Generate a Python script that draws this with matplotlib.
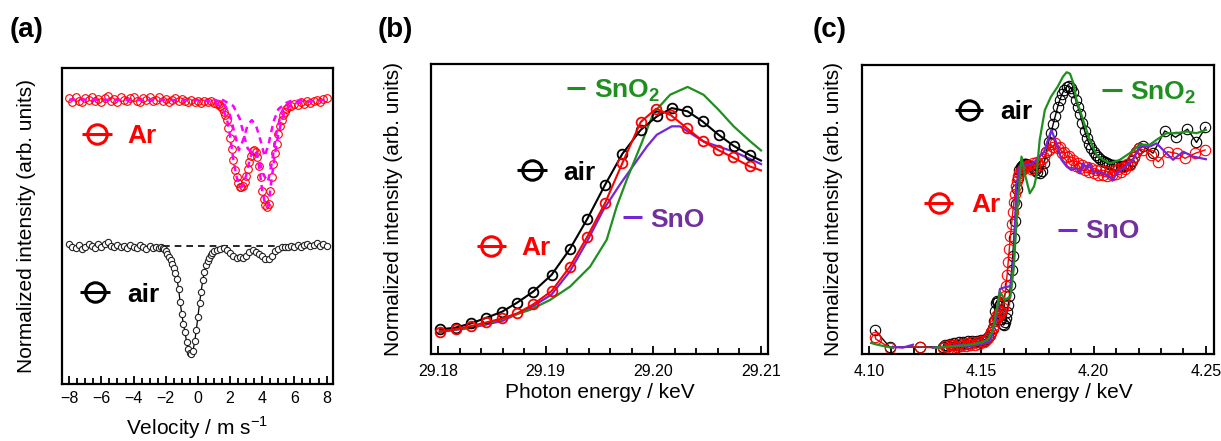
import matplotlib
matplotlib.use("Agg")
import matplotlib.pyplot as plt
from matplotlib.ticker import MultipleLocator, FormatStrFormatter

plt.rcParams['font.family'] = ['Liberation Sans', 'DejaVu Sans']
plt.rcParams['mathtext.fontset'] = 'custom'
plt.rcParams['mathtext.rm'] = 'Liberation Sans'
plt.rcParams['mathtext.bf'] = 'Liberation Sans:bold'

# ---------------- (a) Mossbauer: velocity (mm/s) vs normalized intensity ----------------
ar_v = [-8.0, -7.8, -7.6, -7.4, -7.2, -7.0, -6.8, -6.6, -6.4, -6.2, -6.0, -5.8, -5.6, -5.4,
        -5.2, -5.0, -4.8, -4.6, -4.4, -4.2, -4.0, -3.8, -3.6, -3.4, -3.2, -3.0, -2.8, -2.6,
        -2.4, -2.2, -2.0, -1.8, -1.6, -1.4, -1.2, -1.0, -0.8, -0.6, -0.4, -0.2, 0.0, 0.2,
        0.4, 0.6, 0.8, 1.0, 1.2,
        1.3, 1.4, 1.5, 1.6, 1.7, 1.8, 1.9, 2.0, 2.1, 2.2, 2.3, 2.4, 2.5, 2.6, 2.7, 2.8, 2.9,
        3.0, 3.1, 3.2, 3.3, 3.4, 3.5, 3.6, 3.7, 3.8, 3.9, 4.0, 4.1, 4.2, 4.3, 4.4, 4.5, 4.6,
        4.7, 4.8, 4.9, 5.0, 5.1, 5.2, 5.3, 5.4, 5.5, 5.6,
        5.8, 6.0, 6.2, 6.4, 6.6, 6.8, 7.0, 7.2, 7.4, 7.6, 7.8, 8.0]
ar_y = [0.904, 0.893, 0.907, 0.897, 0.891, 0.905, 0.899, 0.909, 0.894, 0.902, 0.892, 0.906,
        0.910, 0.896, 0.901, 0.891, 0.907, 0.898, 0.894, 0.905, 0.909, 0.897, 0.892, 0.904,
        0.899, 0.907, 0.894, 0.900, 0.908, 0.896, 0.902, 0.893, 0.899, 0.905, 0.895, 0.901,
        0.896, 0.891, 0.900, 0.893, 0.897, 0.890, 0.896, 0.891, 0.895, 0.889, 0.887,
        0.885, 0.880, 0.872, 0.862, 0.850, 0.835, 0.810, 0.780, 0.745, 0.708, 0.678, 0.655,
        0.635, 0.624, 0.622, 0.627, 0.640, 0.658, 0.680, 0.702, 0.722, 0.737, 0.742, 0.735,
        0.718, 0.690, 0.655, 0.612, 0.585, 0.566, 0.560, 0.570, 0.610, 0.655, 0.695, 0.730,
        0.760, 0.790, 0.815, 0.835, 0.850, 0.862, 0.870, 0.876,
        0.880, 0.886, 0.883, 0.891, 0.887, 0.895, 0.890, 0.897, 0.899, 0.893, 0.901, 0.904]

ar_fit_v = [-8.0, 0.0, 1.0, 1.5, 1.8, 2.0, 2.2, 2.4, 2.6, 2.7, 2.8, 3.0, 3.2, 3.4, 3.5, 3.6,
            3.8, 4.0, 4.2, 4.3, 4.4, 4.6, 4.8, 5.0, 5.3, 5.6, 6.0, 8.0]
ar_fit_y = [0.900, 0.898, 0.893, 0.875, 0.840, 0.785, 0.712, 0.657, 0.625, 0.622, 0.628,
            0.660, 0.705, 0.738, 0.742, 0.735, 0.690, 0.612, 0.566, 0.560, 0.572, 0.655,
            0.730, 0.790, 0.850, 0.876, 0.888, 0.900]
ar_comp1_v = [1.0, 1.6, 2.0, 2.3, 2.55, 2.8, 3.1, 3.35, 3.6, 3.9, 4.15, 4.4, 4.7, 5.0, 5.5, 6.0]
ar_comp1_y = [0.900, 0.890, 0.850, 0.790, 0.740, 0.770, 0.820, 0.835, 0.820, 0.770, 0.720,
              0.760, 0.830, 0.870, 0.890, 0.900]
ar_comp2_v = [1.5, 2.2, 2.6, 2.9, 3.1, 3.3, 3.6, 3.85, 4.1, 4.35, 4.6, 4.9, 5.2, 5.6, 6.5]
ar_comp2_y = [0.900, 0.880, 0.840, 0.780, 0.745, 0.735, 0.735, 0.700, 0.660, 0.640, 0.700,
              0.800, 0.860, 0.890, 0.900]

air_v = [-8.0, -7.8, -7.6, -7.4, -7.2, -7.0, -6.8, -6.6, -6.4, -6.2, -6.0, -5.8, -5.6, -5.4,
         -5.2, -5.0, -4.8, -4.6, -4.4, -4.2, -4.0, -3.8, -3.6, -3.4, -3.2, -3.0, -2.8, -2.6,
         -2.4,
         -2.3, -2.2, -2.1, -2.0, -1.9, -1.8, -1.7, -1.6, -1.5, -1.4, -1.3, -1.2, -1.1, -1.0,
         -0.9, -0.8, -0.7, -0.6, -0.5, -0.4, -0.3, -0.2, -0.1, 0.0, 0.1, 0.2, 0.3, 0.4, 0.5,
         0.6, 0.7, 0.8, 0.9, 1.0,
         1.2, 1.4, 1.6, 1.8, 2.0, 2.2, 2.4, 2.6, 2.8, 3.0, 3.2, 3.4, 3.6, 3.8, 4.0, 4.2, 4.4,
         4.6, 4.8, 5.0, 5.2, 5.4, 5.6, 5.8, 6.0, 6.2, 6.4, 6.6, 6.8, 7.0, 7.2, 7.4, 7.6, 7.8,
         8.0]
air_y = [0.442, 0.434, 0.430, 0.440, 0.428, 0.435, 0.443, 0.436, 0.431, 0.442, 0.435, 0.444,
         0.448, 0.437, 0.433, 0.441, 0.432, 0.438, 0.430, 0.439, 0.435, 0.431, 0.439, 0.433,
         0.428, 0.437, 0.431, 0.434, 0.430,
         0.432, 0.430, 0.426, 0.420, 0.412, 0.402, 0.392, 0.380, 0.368, 0.352, 0.333, 0.300,
         0.258, 0.220, 0.190, 0.163, 0.132, 0.110, 0.097, 0.094, 0.106, 0.135, 0.170, 0.213,
         0.255, 0.292, 0.328, 0.355, 0.376, 0.390, 0.400, 0.408, 0.414, 0.420,
         0.424, 0.428, 0.430, 0.425, 0.415, 0.405, 0.400, 0.402, 0.398, 0.405, 0.418, 0.424,
         0.418, 0.410, 0.404, 0.396, 0.394, 0.405, 0.420, 0.428, 0.432, 0.434, 0.433, 0.437,
         0.435, 0.441, 0.435, 0.439, 0.443, 0.436, 0.441, 0.445, 0.438, 0.442, 0.438]
air_base_v = [-2.2, 5.0]
air_base_y = [0.437, 0.437]

# ---------------- (b) Sn K-edge XANES ----------------
air_b_E = [29.18016, 29.18164, 29.18310, 29.18450, 29.18596, 29.18735, 29.18884, 29.19055,
           29.19225, 29.19387, 29.19551, 29.19712, 29.19883, 29.20032, 29.20171, 29.20317,
           29.20457, 29.20606, 29.20745, 29.20900, 29.21000]
air_b_y = [0.085, 0.091, 0.106, 0.125, 0.146, 0.177, 0.215, 0.273, 0.362, 0.466, 0.583,
           0.690, 0.773, 0.819, 0.848, 0.837, 0.802, 0.756, 0.718, 0.685, 0.667]
ar_b_E = [29.18016, 29.18164, 29.18310, 29.18450, 29.18599, 29.18735, 29.18884, 29.19055,
          29.19225, 29.19387, 29.19551, 29.19712, 29.19883, 29.20026, 29.20165, 29.20311,
          29.20457, 29.20599, 29.20739, 29.20894, 29.21000]
ar_b_y = [0.077, 0.085, 0.097, 0.109, 0.123, 0.140, 0.171, 0.217, 0.301, 0.405, 0.520,
          0.658, 0.800, 0.846, 0.823, 0.779, 0.735, 0.704, 0.678, 0.647, 0.633]
sno2_b_E = [29.18016, 29.18310, 29.18574, 29.18853, 29.19039, 29.19225, 29.19412, 29.19567,
            29.19660, 29.19753, 29.19883, 29.20001, 29.20156, 29.20318, 29.20466, 29.20606,
            29.20746, 29.20901, 29.21000]
sno2_b_y = [0.077, 0.092, 0.118, 0.152, 0.186, 0.232, 0.301, 0.394, 0.509, 0.601, 0.720,
            0.831, 0.894, 0.921, 0.894, 0.842, 0.785, 0.733, 0.702]
sno_b_E = [29.18016, 29.18310, 29.18605, 29.18884, 29.19055, 29.19225, 29.19387, 29.19536,
           29.19691, 29.19815, 29.19939, 29.20032, 29.20171, 29.20249, 29.20342, 29.20466,
           29.20606, 29.20746, 29.20901, 29.21000]
sno_b_y = [0.077, 0.090, 0.115, 0.165, 0.205, 0.285, 0.390, 0.497, 0.585, 0.650, 0.715,
           0.756, 0.785, 0.785, 0.762, 0.733, 0.715, 0.698, 0.672, 0.655]

# ---------------- (c) Sn L3-edge XANES ----------------
air_c_E = [4.1028, 4.1092, 4.1225,
           4.133, 4.134, 4.135, 4.136, 4.137, 4.138, 4.139, 4.140, 4.141, 4.142, 4.143, 4.144,
           4.145, 4.146, 4.147, 4.148, 4.149, 4.150, 4.151, 4.152, 4.153, 4.154,
           4.1545, 4.155, 4.1555, 4.156, 4.1565, 4.157, 4.1575, 4.158, 4.1585, 4.159, 4.1595,
           4.160, 4.1605, 4.161, 4.1615, 4.162, 4.1625, 4.163, 4.1635, 4.164, 4.1645, 4.165,
           4.1655, 4.166, 4.1665, 4.167, 4.1675, 4.168, 4.1685, 4.169, 4.1695, 4.170,
           4.171, 4.172, 4.173, 4.174, 4.175, 4.176, 4.177, 4.178, 4.179, 4.180, 4.181, 4.182,
           4.183, 4.184, 4.185, 4.186, 4.187, 4.188, 4.189, 4.190, 4.191, 4.192, 4.193, 4.194,
           4.195, 4.196, 4.197, 4.198, 4.199, 4.200, 4.201, 4.202, 4.203, 4.204, 4.205, 4.206,
           4.207, 4.208, 4.209, 4.210, 4.211, 4.212, 4.213, 4.214, 4.215, 4.216, 4.217, 4.218,
           4.219, 4.220,
           4.2221, 4.2265, 4.2317, 4.2365, 4.2418, 4.2458, 4.2498]
air_c_y = [0.082, 0.024, 0.024,
           0.025, 0.032, 0.026, 0.035, 0.030, 0.038, 0.032, 0.040, 0.035, 0.042, 0.036, 0.044,
           0.038, 0.046, 0.040, 0.045, 0.042, 0.048, 0.046, 0.052, 0.058, 0.065,
           0.075, 0.090, 0.115, 0.150, 0.175, 0.185, 0.180, 0.165, 0.140, 0.120, 0.105,
           0.100, 0.110, 0.125, 0.145, 0.170, 0.200, 0.240, 0.290, 0.340, 0.400, 0.460,
           0.520, 0.570, 0.610, 0.635, 0.648, 0.652, 0.655, 0.656, 0.657, 0.656,
           0.655, 0.650, 0.645, 0.638, 0.630, 0.625, 0.632, 0.660, 0.700, 0.735, 0.765, 0.795,
           0.825, 0.855, 0.880, 0.900, 0.915, 0.925, 0.928, 0.920, 0.905, 0.880, 0.855, 0.830,
           0.800, 0.772, 0.748, 0.728, 0.712, 0.700, 0.690, 0.682, 0.675, 0.668, 0.663, 0.660,
           0.657, 0.655, 0.653, 0.652, 0.651, 0.650, 0.650, 0.651, 0.653, 0.658, 0.668, 0.682,
           0.698, 0.712,
           0.718, 0.695, 0.772, 0.750, 0.778, 0.732, 0.784]

ar_c_E = [4.1028, 4.1030, 4.1092, 4.1225,
          4.133, 4.134, 4.135, 4.136, 4.137, 4.138, 4.139, 4.140, 4.141, 4.142, 4.143, 4.144,
          4.145, 4.146, 4.147, 4.148, 4.149, 4.150, 4.151, 4.152, 4.153, 4.154,
          4.1545, 4.155, 4.1555, 4.156, 4.1565, 4.157, 4.1575, 4.158, 4.1585, 4.159, 4.1595,
          4.160, 4.1605, 4.161, 4.1615, 4.162, 4.1625, 4.163, 4.1635, 4.164, 4.1645, 4.165,
          4.1655, 4.166, 4.1665, 4.167, 4.1675, 4.168, 4.1685, 4.169, 4.1695, 4.170,
          4.171, 4.172, 4.173, 4.174, 4.175, 4.176, 4.177, 4.178, 4.179, 4.180, 4.181, 4.182,
          4.183, 4.184, 4.185, 4.186, 4.187, 4.188, 4.189, 4.190, 4.191, 4.192, 4.193, 4.194,
          4.195, 4.196, 4.197, 4.198, 4.199, 4.200, 4.201, 4.202, 4.203, 4.204, 4.205, 4.206,
          4.207, 4.208, 4.209, 4.210, 4.211, 4.212, 4.213, 4.214, 4.215, 4.216, 4.217, 4.218,
          4.219, 4.220,
          4.2222, 4.2255, 4.2288, 4.2330, 4.2370, 4.2407, 4.2451, 4.2496]
ar_c_y = [0.060, 0.052, 0.022, 0.024,
          0.020, 0.028, 0.018, 0.030, 0.022, 0.032, 0.025, 0.035, 0.026, 0.036, 0.028, 0.038,
          0.030, 0.040, 0.032, 0.042, 0.035, 0.044, 0.040, 0.050, 0.055, 0.065,
          0.075, 0.085, 0.100, 0.115, 0.130, 0.125, 0.140, 0.135, 0.150, 0.145, 0.160,
          0.175, 0.200, 0.235, 0.275, 0.320, 0.365, 0.410, 0.450, 0.490, 0.525, 0.555,
          0.580, 0.600, 0.615, 0.625, 0.633, 0.638, 0.642, 0.645, 0.647, 0.650,
          0.655, 0.640, 0.660, 0.648, 0.665, 0.655, 0.675, 0.680, 0.700, 0.705, 0.725, 0.715,
          0.730, 0.712, 0.715, 0.695, 0.700, 0.680, 0.685, 0.665, 0.670, 0.650, 0.660, 0.642,
          0.655, 0.635, 0.648, 0.630, 0.642, 0.625, 0.638, 0.620, 0.635, 0.618, 0.632, 0.615,
          0.630, 0.618, 0.635, 0.622, 0.640, 0.630, 0.648, 0.640, 0.658, 0.655, 0.672, 0.680,
          0.700, 0.712,
          0.706, 0.690, 0.665, 0.700, 0.694, 0.677, 0.694, 0.706]

sno2_c_E = [4.1010, 4.1050, 4.1107, float('nan'), 4.1290, 4.1330, 4.1400, 4.1450, 4.1500,
            4.1530, 4.1550, 4.1570, 4.1583, 4.1605, 4.1630, 4.1645, 4.1660, 4.1679, 4.1695,
            4.1716, 4.1735, 4.1745, 4.1760, 4.1783, 4.1810, 4.1840, 4.1864, 4.1880, 4.1895,
            4.1910, 4.1924, 4.1953, 4.1983, 4.2013, 4.2042, 4.2072, 4.2117, 4.2161, 4.2206,
            4.2250, 4.2280, 4.2325, 4.2370, 4.2414, 4.2458, 4.2500]
sno2_c_y = [0.038, 0.030, 0.021, float('nan'), 0.022, 0.024, 0.028, 0.032, 0.040,
            0.050, 0.080, 0.160, 0.216, 0.187, 0.200, 0.300, 0.500, 0.683, 0.620,
            0.556, 0.580, 0.614, 0.741, 0.844, 0.890, 0.925, 0.960, 0.975, 0.970,
            0.937, 0.879, 0.810, 0.741, 0.689, 0.672, 0.660, 0.672, 0.695, 0.724,
            0.724, 0.741, 0.764, 0.764, 0.770, 0.764, 0.775]
sno_c_E = [4.1107, 4.1150, 4.1196, float('nan'), 4.1285, 4.1330, 4.1400, 4.1450, 4.1500,
           4.1540, 4.1565, 4.1583, 4.1600, 4.1630, 4.1645, 4.1656, 4.1671, 4.1700, 4.1730,
           4.1760, 4.1780, 4.1797, 4.1812, 4.1835, 4.1857, 4.1880, 4.1900, 4.1924, 4.1940,
           4.1953, 4.1970, 4.1983, 4.2000, 4.2013, 4.2042, 4.2072, 4.2085, 4.2102, 4.2132,
           4.2176, 4.2206, 4.2250, 4.2280, 4.2317, 4.2354, 4.2399, 4.2443, 4.2500]
sno_c_y = [0.025, 0.022, 0.032, float('nan'), 0.022, 0.025, 0.030, 0.028, 0.035,
           0.045, 0.120, 0.225, 0.230, 0.235, 0.330, 0.580, 0.649, 0.654, 0.660,
           0.683, 0.700, 0.741, 0.775, 0.729, 0.672, 0.649, 0.637, 0.643, 0.625,
           0.660, 0.640, 0.660, 0.628, 0.631, 0.625, 0.614, 0.600, 0.625, 0.643,
           0.672, 0.718, 0.718, 0.729, 0.700, 0.672, 0.700, 0.683, 0.674]

RED = '#ff0000'
MAGENTA = '#ff00ff'
GREEN = '#1f8f1f'
PURPLE_LINE = '#7326d9'
PURPLE_TEXT = '#7030a0'

W, H = 1221, 441
fig = plt.figure(figsize=(W / 100, H / 100), dpi=100)


def add_ax(left, top, right, bottom):
    return fig.add_axes([left / W, 1 - bottom / H, (right - left) / W, (bottom - top) / H])


def style(ax, xlim, major, minor, fmt, pad, ylabel_x):
    ax.set_xlim(*xlim)
    ax.set_ylim(0, 1)
    ax.set_yticks([])
    ax.xaxis.set_major_locator(MultipleLocator(major))
    ax.xaxis.set_minor_locator(MultipleLocator(minor))
    ax.xaxis.set_major_formatter(FormatStrFormatter(fmt))
    ax.tick_params(axis='x', which='both', direction='in', top=False, width=1.3,
                   labelsize=11.5, pad=pad)
    ax.tick_params(axis='x', which='major', length=5.5)
    ax.tick_params(axis='x', which='minor', length=4)
    for s in ax.spines.values():
        s.set_linewidth(1.6)
    ax.set_ylabel('Normalized intensity (arb. units)', fontsize=15)
    ax.yaxis.set_label_coords(ylabel_x, 0.5)


def key(ax, x0, x1, y, color, marker=True):
    ax.plot([x0, x1], [y, y], color=color, lw=2.2, transform=ax.transAxes,
            clip_on=False, solid_capstyle='butt')
    if marker:
        ax.plot([(x0 + x1) / 2], [y], 'o', ms=14, mfc='none', mec=color, mew=2.2,
                transform=ax.transAxes, clip_on=False)


def label(ax, x, y, s, color):
    ax.text(x, y, s, transform=ax.transAxes, fontsize=19, fontweight='bold',
            color=color, ha='left', va='baseline')


# (a)
ax = add_ax(62, 68, 333, 384)
ax.plot(air_base_v, air_base_y, '--', color='black', lw=1.2, dashes=(4, 3))
ax.plot(air_v, air_y, '-o', color='black', lw=0.9, ms=4.5, mfc='white', mec='#222222', mew=0.8)
ax.plot(ar_v, ar_y, 'o', ms=5.5, mfc='none', mec=RED, mew=0.8)
for vv, yy in [(ar_comp1_v, ar_comp1_y), (ar_comp2_v, ar_comp2_y), (ar_fit_v, ar_fit_y)]:
    ax.plot(vv, yy, '--', color=MAGENTA, lw=1.8, dashes=(2.5, 2))
style(ax, (-8.45, 8.4), 2, 0.5, '%d', 5, -0.096)
ax.xaxis.set_major_formatter(plt.FuncFormatter(lambda v, p: f'{v:.0f}'.replace('-', '\u2212')))
ax.set_xlabel('Velocity / m s$^{-1}$', fontsize=15, labelpad=6)
key(ax, 0.074, 0.185, 0.791, RED)
label(ax, 0.240, 0.763, 'Ar', RED)
key(ax, 0.066, 0.177, 0.291, 'black')
label(ax, 0.240, 0.259, 'air', 'black')

# (b)
ax = add_ax(431, 64, 768, 354)
ax.plot(sno_b_E, sno_b_y, '-', color=PURPLE_LINE, lw=1.6)
ax.plot(sno2_b_E, sno2_b_y, '-', color=GREEN, lw=1.6)
ax.plot(air_b_E, air_b_y, '-o', color='black', lw=1.5, ms=7, mfc='none', mew=1.3,
        markevery=slice(0, -1))
ax.plot(ar_b_E, ar_b_y, '-o', color=RED, lw=1.5, ms=7, mfc='none', mew=1.3,
        markevery=slice(0, -1))
style(ax, (29.17935, 29.21065), 0.01, 0.002, '%.2f', 7, -0.083)
ax.set_xlabel('Photon energy / keV', fontsize=15, labelpad=3)
key(ax, 0.404, 0.457, 0.917, GREEN, marker=False)
label(ax, 0.484, 0.883, r'SnO$_{\mathbf{2}}$', GREEN)
key(ax, 0.255, 0.344, 0.634, 'black')
label(ax, 0.392, 0.600, 'air', 'black')
key(ax, 0.570, 0.626, 0.472, PURPLE_LINE, marker=False)
label(ax, 0.650, 0.439, 'SnO', PURPLE_TEXT)
key(ax, 0.136, 0.223, 0.372, RED)
label(ax, 0.267, 0.341, 'Ar', RED)

# (c)
ax = add_ax(862, 65, 1214, 354)
ax.plot(air_c_E, air_c_y, '-o', color='black', lw=1.0, ms=7.5, mfc='none', mew=0.8)
ax.plot(ar_c_E, ar_c_y, '-o', color=RED, lw=1.0, ms=7.5, mfc='none', mew=0.8)
ax.plot(sno_c_E, sno_c_y, '-', color=PURPLE_LINE, lw=1.6)
ax.plot(sno2_c_E, sno2_c_y, '-', color=GREEN, lw=1.6)
style(ax, (4.0969, 4.2536), 0.05, 0.01, '%.2f', 7, -0.054)
ax.set_xlabel('Photon energy / keV', fontsize=15, labelpad=3)
key(ax, 0.264, 0.344, 0.844, 'black')
label(ax, 0.392, 0.812, 'air', 'black')
key(ax, 0.682, 0.739, 0.913, GREEN, marker=False)
label(ax, 0.761, 0.879, r'SnO$_{\mathbf{2}}$', GREEN)
key(ax, 0.176, 0.259, 0.522, RED)
label(ax, 0.310, 0.492, 'Ar', RED)
key(ax, 0.557, 0.611, 0.429, PURPLE_LINE, marker=False)
label(ax, 0.634, 0.400, 'SnO', PURPLE_TEXT)

for x, s in [(10, '(a)'), (378, '(b)'), (813, '(c)')]:
    fig.text(x / W, 1 - 30 / H, s, fontsize=20, fontweight='bold', ha='left', va='center')

fig.savefig('out.png', dpi=100)
